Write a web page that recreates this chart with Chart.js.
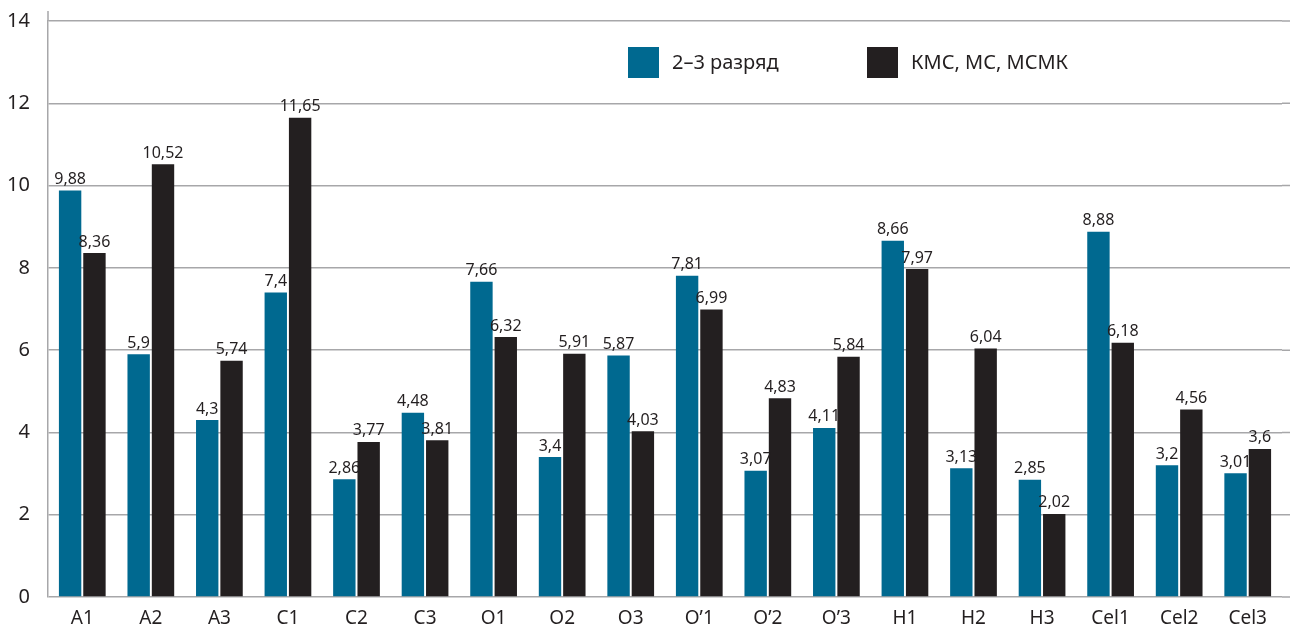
<!DOCTYPE html>
<html>
<head>
<meta charset="utf-8">
<script src="https://cdn.jsdelivr.net/npm/chart.js@4.4.1/dist/chart.umd.min.js"></script>
<style>
  html, body { margin: 0; padding: 0; background: #fff; }
  #wrap { width: 1290px; height: 635px; position: relative; }
</style>
</head>
<body>
<div id="wrap"><canvas id="chart"></canvas></div>
<script>
// Data
const categories = ['A1', 'A2', 'A3', 'C1', 'C2', 'C3', 'O1', 'O2', 'O3', 'O\u20191', 'O\u20192', 'O\u20193', 'H1', 'H2', 'H3', 'Cel1', 'Cel2', 'Cel3'];
const razryad = [9.88, 5.9, 4.3, 7.4, 2.86, 4.48, 7.66, 3.4, 5.87, 7.81, 3.07, 4.11, 8.66, 3.13, 2.85, 8.88, 3.2, 3.01];
const kms = [8.36, 10.52, 5.74, 11.65, 3.77, 3.81, 6.32, 5.91, 4.03, 6.99, 4.83, 5.84, 7.97, 6.04, 2.02, 6.18, 4.56, 3.6];
const seriesNames = ['2\u20133 разряд', 'КМС, МС, МСМК'];
const yTicks = [0, 2, 4, 6, 8, 10, 12, 14];

const colors = {
    blue: '#006990',
    dark: '#231f20',
    grid: '#a7a7a9',
    text: '#231f20'
};
const FONT = '"Noto Sans", "Open Sans", sans-serif';

function fmt(v) {
    return String(v).replace('.', ',');
}

// Value labels above bars
const valueLabels = {
    id: 'valueLabels',
    afterDatasetsDraw(chart) {
        const ctx = chart.ctx;
        ctx.save();
        ctx.font = '16px ' + FONT;
        ctx.fillStyle = colors.text;
        ctx.textAlign = 'center';
        ctx.textBaseline = 'bottom';
        chart.data.datasets.forEach((ds, i) => {
            const meta = chart.getDatasetMeta(i);
            meta.data.forEach((bar, j) => {
                ctx.fillText(fmt(ds.data[j]), bar.x, bar.y - 3);
            });
        });
        ctx.restore();
    }
};

// gridlines run on to the canvas edge, axis line pokes above the top
const gridExtend = {
    id: 'gridExtend',
    beforeDatasetsDraw(chart) {
        const ctx = chart.ctx;
        const area = chart.chartArea;
        const y = chart.scales.y;
        ctx.save();
        ctx.strokeStyle = colors.grid;
        ctx.lineWidth = 1.5;
        ctx.beginPath();
        yTicks.forEach(v => {
            const py = y.getPixelForValue(v);
            ctx.moveTo(area.right, py);
            ctx.lineTo(chart.width, py);
        });
        ctx.moveTo(area.left, area.top);
        ctx.lineTo(area.left, area.top - 10);
        ctx.stroke();
        ctx.restore();
    }
};

// Legend inside plot
const insideLegend = {
    id: 'insideLegend',
    afterDraw(chart) {
        const ctx = chart.ctx;
        const items = [
            { x: 628, color: colors.blue, label: seriesNames[0] },
            { x: 867, color: colors.dark, label: seriesNames[1] }
        ];
        ctx.save();
        ctx.font = '20px ' + FONT;
        ctx.textBaseline = 'middle';
        ctx.textAlign = 'left';
        items.forEach(it => {
            ctx.fillStyle = it.color;
            ctx.fillRect(it.x, 47, 31, 31);
            ctx.fillStyle = colors.text;
            ctx.fillText(it.label, it.x + 44, 63);
        });
        ctx.restore();
    }
};

new Chart(document.getElementById('chart'), {
    type: 'bar',
    data: {
        labels: categories,
        datasets: [
            { label: seriesNames[0], data: razryad, backgroundColor: colors.blue },
            { label: seriesNames[1], data: kms, backgroundColor: colors.dark }
        ]
    },
    options: {
        responsive: true,
        maintainAspectRatio: false,
        animation: false,
        devicePixelRatio: 1,
        categoryPercentage: 0.71,
        barPercentage: 0.92,
        layout: { padding: { top: 21, right: 8, left: 0, bottom: 0 } },
        plugins: {
            legend: { display: false },
            tooltip: { enabled: false }
        },
        scales: {
            x: {
                grid: { display: false, drawTicks: false },
                border: { display: false },
                ticks: { color: colors.text, font: { family: FONT, size: 19 }, padding: 10, maxRotation: 0 },
                afterFit(scale) { scale.height = 38; scale.paddingLeft = 0; scale.paddingRight = 0; }
            },
            y: {
                min: 0,
                max: 14,
                afterBuildTicks(scale) { scale.ticks = yTicks.map(v => ({ value: v })); },
                grid: { color: colors.grid, lineWidth: 1.5, drawTicks: false },
                border: { display: true, color: colors.grid, width: 1.5 },
                ticks: { color: colors.text, font: { family: FONT, size: 20 }, padding: 18 },
                afterFit(scale) { scale.width = 48; scale.paddingTop = 0; scale.paddingBottom = 0; }
            }
        }
    },
    plugins: [gridExtend, valueLabels, insideLegend]
});
</script>
</body>
</html>
